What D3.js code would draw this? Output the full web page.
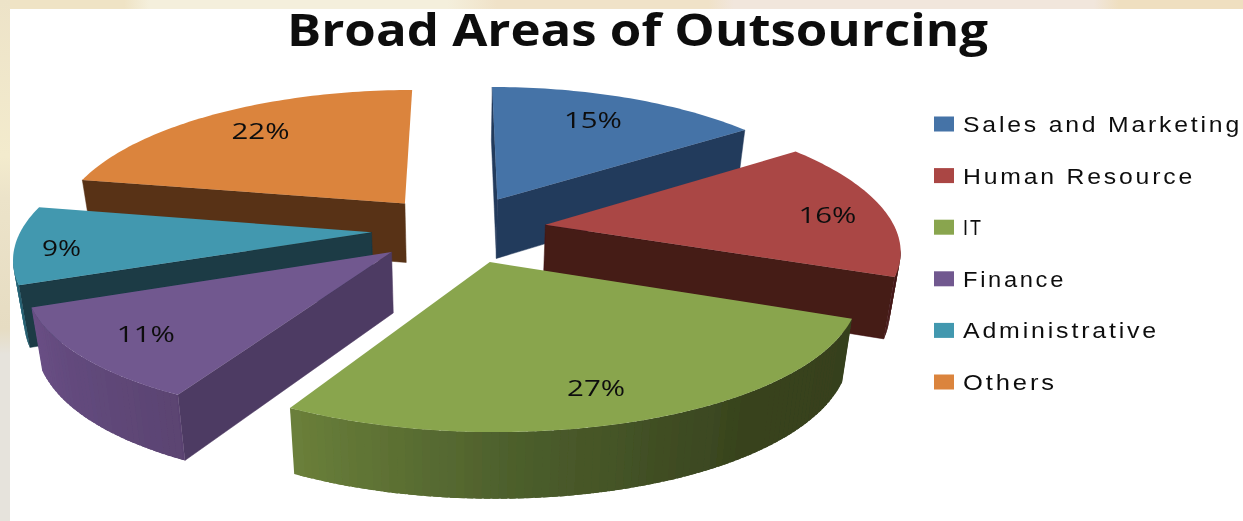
<!DOCTYPE html>
<html>
<head>
<meta charset="utf-8">
<script src="https://cdnjs.cloudflare.com/ajax/libs/d3/7.8.5/d3.min.js"></script>
<style>
html, body { margin: 0; padding: 0; background: #fff; overflow: hidden; }
text { fill: #111; }
</style>
</head>
<body>
<script>
// chart values
const title = "Broad Areas of Outsourcing";
const categories = ["Sales and Marketing", "Human Resource", "IT", "Finance", "Administrative", "Others"];
const values = [15, 16, 27, 11, 9, 22];

// look of the slices, same order as categories
const topColors = ["#4573a7", "#aa4644", "#89a54e", "#71588f", "#4298af", "#db843d"];
const sideColors = ["#243b5c", "#451a17", "#38431e", "#4e3b63", "#1a3a45", "#583217"];
const rimColors = [
    ["#243b5c", "#243b5c"],
    ["#451a17", "#451a17"],
    ["#36401e", "#38431e", "#4b5d2b", "#6a7f3a"],
    ["#5a4371", "#694f85"],
    ["#1f5566", "#2f8aa3"],
    ["#583217", "#583217"]
];
const legendWidths = [279, 232, 20, 103, 196, 94];
const labelRadius = [0.77, 0.83, 0.8, 0.8, 0.87, 0.79];
const labelTurn = [-2, 1, 2, 1, -1, 2];   // degrees away from the slice middle

const w = 1243;
const h = 521;

// perspective of the pie plane
const cx = 459, cy = 229;
const radius = 350, flatten = 136;
const perspX = 0.16, perspY = 0.14;
const depth = 60;
const explode = 0.25;

const project = (u, v, z) => {
    const shrink = 1 - 0.025 * z;
    return [
        cx + u * radius / (1 - perspX * v) * shrink,
        cy + v * flatten / (1 - perspY * v) + z * depth * (1 + 0.09 * v)
    ];
};

const pie = d3.pie().sort(null).value(d => d);
const slices = pie(values).map((d, i) => {
    const mid = (d.startAngle + d.endAngle) / 2;
    return {
        i: i,
        a0: d.startAngle,
        a1: d.endAngle,
        mid: mid,
        ox: explode * Math.sin(mid),
        oy: -explode * Math.cos(mid)
    };
});

const rimPoint = (s, a, r, z) => project(s.ox + r * Math.sin(a), s.oy - r * Math.cos(a), z);

const line = d3.line();
const color = d3.scaleOrdinal(categories, topColors);
const sideColor = d3.scaleOrdinal(categories, sideColors);

const svg = d3.select("body").append("svg")
    .attr("width", w)
    .attr("height", h)
    .style("display", "block");

// the soft look of the enlarged slide picture
const defs = svg.append("defs");
defs.append("filter").attr("id", "soft")
    .attr("x", "-5%").attr("y", "-5%").attr("width", "110%").attr("height", "110%")
    .append("feGaussianBlur").attr("stdDeviation", 0.7);
defs.append("filter").attr("id", "softText")
    .attr("x", "-5%").attr("y", "-20%").attr("width", "110%").attr("height", "140%")
    .append("feGaussianBlur").attr("stdDeviation", 0.55);

// slide background showing at top and left edge
const topBand = defs.append("linearGradient").attr("id", "topBand");
[[0, "#efe3c5"], [0.1, "#efe3c5"], [0.12, "#f4efdc"], [0.36, "#f4efdc"], [0.4, "#f0e2c8"],
 [0.57, "#f0e2c8"], [0.59, "#f1e6dc"], [0.88, "#f1e6dc"], [0.9, "#efdfc0"], [1, "#efdfc0"]]
    .forEach(d => topBand.append("stop").attr("offset", d[0]).attr("stop-color", d[1]));
const leftBand = defs.append("linearGradient").attr("id", "leftBand")
    .attr("x1", 0).attr("y1", 0).attr("x2", 0).attr("y2", 1);
[[0, "#ede3c8"], [0.3, "#f3ebcd"], [0.38, "#ece3c9"], [0.63, "#e6dcc2"], [0.68, "#e6e3dc"], [1, "#e6e3dc"]]
    .forEach(d => leftBand.append("stop").attr("offset", d[0]).attr("stop-color", d[1]));

svg.append("rect").attr("width", w).attr("height", 9).attr("fill", "url(#topBand)");
svg.append("rect").attr("width", 10).attr("height", h).attr("fill", "url(#leftBand)");

// a face hangs below the top edge P-Q when the slice body lies above that edge
const faceVisible = (p, q, c) => {
    const dx = q[0] - p[0], dy = q[1] - p[1];
    const cross = dx * (c[1] - p[1]) - dy * (c[0] - p[0]);
    return dx * cross < 0;
};

const pieGroup = svg.append("g").attr("filter", "url(#soft)");

// back slices first, front ones paint over them
const drawOrder = [5, 0, 1, 4, 3, 2];

drawOrder.forEach(idx => {
    const s = slices[idx];
    const name = categories[idx];
    const g = pieGroup.append("g");
    const centre = rimPoint(s, s.mid, 0.6, 0);
    const apex = rimPoint(s, 0, 0, 0);
    const apexLow = rimPoint(s, 0, 0, 1);

    // flat cut faces, the last one closing the circle does not show in the picture
    [s.a0, s.a1].forEach(a => {
        if (a > 6.28) return;
        const p = rimPoint(s, a, 1, 0);
        if (!faceVisible(apex, p, centre)) return;
        g.append("path")
            .attr("d", line([apex, p, rimPoint(s, a, 1, 1), apexLow]) + "Z")
            .attr("fill", sideColor(name))
            .attr("stroke", sideColor(name))
            .attr("stroke-width", 0.5);
    });

    // outer wall, cut in narrow bands that overlap a little
    const shade = d3.piecewise(d3.interpolateRgb, rimColors[idx]);
    const steps = d3.range(s.a0, s.a1, 0.02).concat([s.a1]);
    d3.pairs(steps).forEach(pair => {
        const p = rimPoint(s, pair[0], 1, 0);
        const q = rimPoint(s, pair[1], 1, 0);
        if (!faceVisible(p, q, centre)) return;
        const t = ((pair[0] + pair[1]) / 2 - s.a0) / (s.a1 - s.a0);
        const back = Math.max(s.a0, pair[0] - 0.015);
        g.append("path")
            .attr("d", line([rimPoint(s, back, 1, 0), q, rimPoint(s, pair[1], 1, 1), rimPoint(s, back, 1, 1)]) + "Z")
            .attr("fill", shade(t));
    });

    // top face
    const arcPoints = d3.range(s.a0, s.a1, 0.02).concat([s.a1]).map(a => rimPoint(s, a, 1, 0));
    g.append("path")
        .attr("d", line([apex].concat(arcPoints)) + "Z")
        .attr("fill", color(name));
});

// data labels
const labelPos = d => rimPoint(d, d.mid + labelTurn[d.i] * Math.PI / 180, labelRadius[d.i], 0);

svg.append("g").attr("filter", "url(#softText)")
    .selectAll("text")
    .data(slices)
    .join("text")
    .attr("x", d => labelPos(d)[0])
    .attr("y", d => labelPos(d)[1] + 2)
    .attr("dy", "0.36em")
    .attr("text-anchor", "middle")
    .attr("font-family", "'Open Sans', sans-serif")
    .attr("font-size", 22)
    .attr("textLength", d => String(values[d.i]).length * 19 + 20)
    .attr("lengthAdjust", "spacingAndGlyphs")
    .text(d => values[d.i] + "%");

// title
svg.append("text")
    .attr("x", 287)
    .attr("y", 46)
    .attr("font-family", "'Open Sans', sans-serif")
    .attr("font-weight", 700)
    .attr("font-size", 44)
    .attr("textLength", 701)
    .attr("lengthAdjust", "spacingAndGlyphs")
    .attr("filter", "url(#softText)")
    .text(title);

// legend
const legendY = d3.scalePoint().domain(categories).range([124, 382]);

const legend = svg.append("g").selectAll("g")
    .data(categories)
    .join("g")
    .attr("transform", d => `translate(934, ${legendY(d)})`);

legend.append("rect")
    .attr("y", -7.5)
    .attr("width", 20)
    .attr("height", 15)
    .attr("fill", d => color(d));

legend.append("text")
    .attr("x", 29)
    .attr("dy", "0.36em")
    .attr("font-family", "'Liberation Sans', sans-serif")
    .attr("font-size", 22)
    .style("letter-spacing", "2.5px")
    .attr("textLength", (d, i) => legendWidths[i])
    .attr("lengthAdjust", "spacingAndGlyphs")
    .attr("filter", "url(#softText)")
    .text(d => d);
</script>
</body>
</html>
